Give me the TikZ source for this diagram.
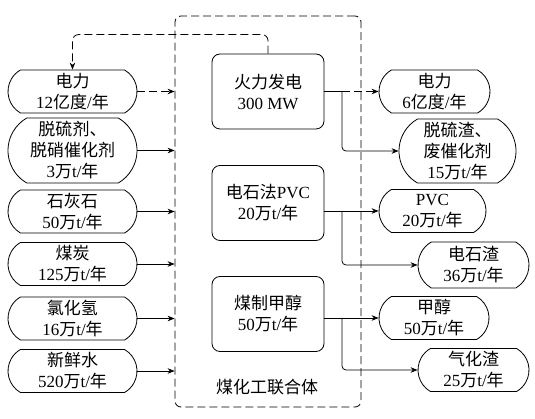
\documentclass[tikz,border=0pt]{standalone}
\usepackage{fontspec}
\setmainfont{Liberation Serif}
\newfontfamily\cjk{Noto Sans CJK SC}
\newcommand{\zh}[1]{{\cjk #1}}
\newcommand{\wtn}{\zh{万}t/\zh{年}}
\usepackage{tikz}
\usetikzlibrary{arrows.meta,positioning,shapes.misc}

\tikzset{
  inbox/.style={draw, rounded rectangle, rounded rectangle arc length=120, align=center,
    minimum width=131pt, minimum height=43pt, inner sep=1pt},
  outbox/.style={inbox, minimum width=113pt},
  procbox/.style={draw, rounded corners=8pt, align=center, minimum width=112pt, minimum height=75pt},
  flow/.style={-{Stealth[length=7pt,width=5.5pt]}},
  dashline/.style={dash pattern=on 8pt off 4pt},
}

\begin{document}
\begin{tikzpicture}[x=1pt, y=-1pt, line width=0.8pt,
    every node/.style={font=\fontsize{17}{21}\selectfont}]
  \useasboundingbox (0,0) rectangle (535,419);

  % coal chemical complex
  \node (lianhe) [draw, dashline, rounded corners=6pt, minimum width=186pt, minimum height=391pt] at (268,211.5) {};
  \node (lianheLabel) at (267,387) {\zh{煤化工联合体}};

  % inputs
  \node (in1) [inbox] at (72.5,91.5) {\zh{电力}\\12\zh{亿度}/\zh{年}};
  \node (in2) [inbox, minimum height=65pt] at (72.5,150.5) {\zh{脱硫剂、}\\\zh{脱硝催化剂}\\3\wtn};
  \node (in3) [inbox] at (72.5,211.5) {\zh{石灰石}\\50\wtn};
  \node (in4) [inbox] at (72.5,264) {\zh{煤炭}\\125\wtn};
  \node (in5) [inbox] at (72.5,318.5) {\zh{氯化氢}\\16\wtn};
  \node (in6) [inbox] at (72.5,371) {\zh{新鲜水}\\520\wtn};

  % processes
  \node (proc1) [procbox] at (268,91.5) {\zh{火力发电}\\300 MW};
  \node (proc2) [procbox] at (268,203) {\zh{电石法}PVC\\20\wtn};
  \node (proc3) [procbox] at (268,314) {\zh{煤制甲醇}\\50\wtn};

  % outputs
  \node (out1) [outbox] at (434.5,91.5) {\zh{电力}\\6\zh{亿度}/\zh{年}};
  \node (out2) [outbox, minimum width=119pt, minimum height=64pt] at (457.5,151) {\zh{脱硫渣、}\\\zh{废催化剂}\\15\wtn};
  \node (out3) [outbox, minimum width=109pt] at (432.5,211) {PVC\\20\wtn};
  \node (out4) [outbox, minimum height=46pt] at (473.5,265) {\zh{电石渣}\\36\wtn};
  \node (out5) [outbox, minimum width=112pt] at (434,318) {\zh{甲醇}\\50\wtn};
  \node (out6) [outbox] at (473.5,370) {\zh{气化渣}\\25\wtn};

  \coordinate (br1) at (342,91.5);
  \coordinate (br2) at (342,211);
  \coordinate (br3) at (342,318);

  % input arrows
  \draw [flow, dashline] (in1.east) -- (in1.east -| lianhe.west);
  \foreach \n in {in2,in3,in4,in5,in6}
    \draw [flow] (\n.east) -- (\n.east -| lianhe.west);

  % outputs of the processes
  \draw (proc1.east) -- (br1);
  \draw [flow, dashline] (br1) -- (out1.west);
  \draw [flow, rounded corners=4pt] (br1) |- (out2.west);
  \draw [flow] (proc2.east |- br2) -- (out3.west);
  \draw [flow, rounded corners=4pt] (br2) |- (out4.west);
  \draw [flow] (proc3.east |- br3) -- (out5.west);
  \draw [flow, rounded corners=4pt] (br3) |- (out6.west);

  % power fed back
  \draw [flow, dashline, rounded corners=6pt] (proc1.north) -- ++(0,-19) -| (in1.north);
\end{tikzpicture}
\end{document}
